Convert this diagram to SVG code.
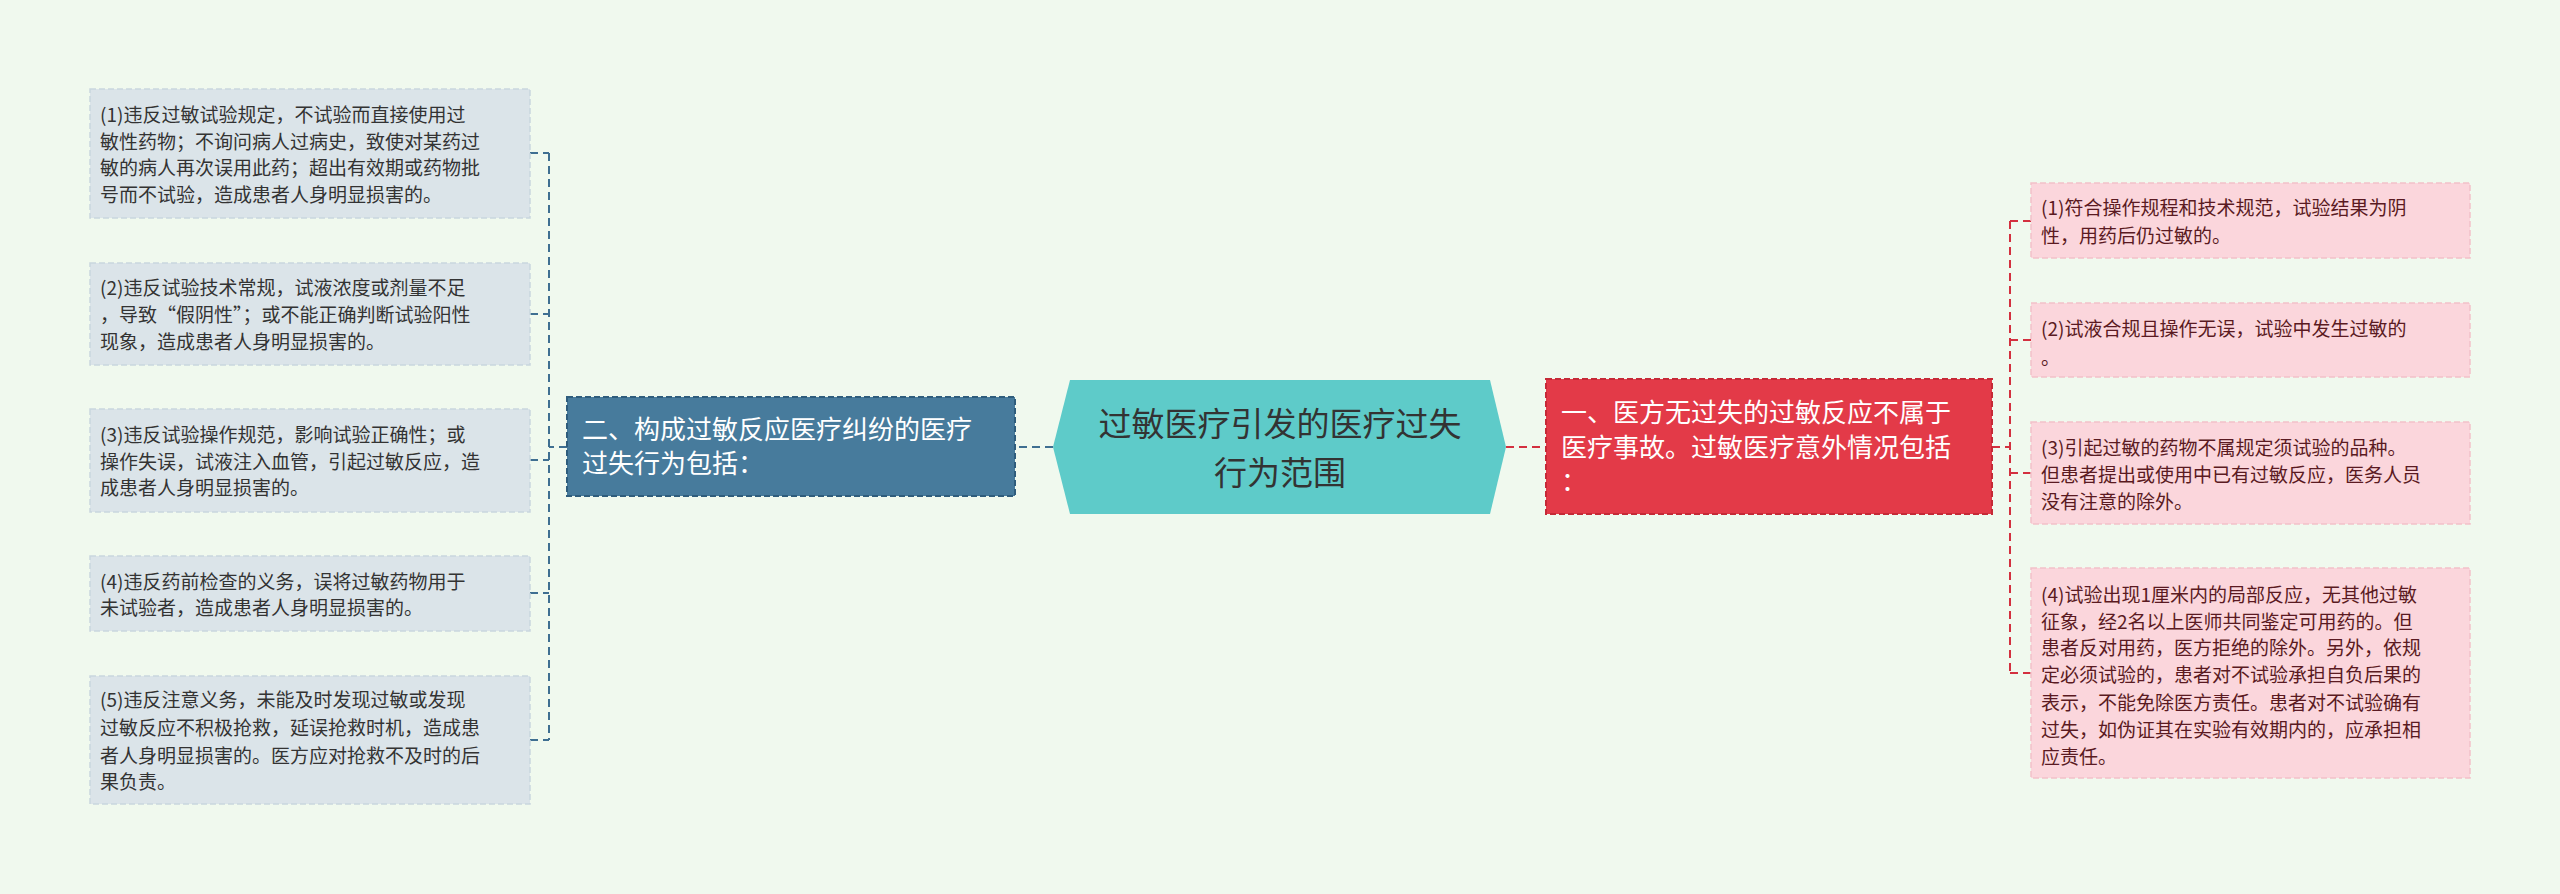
<svg xmlns="http://www.w3.org/2000/svg" width="2560" height="894" viewBox="0 0 2560 894">
<style>
text{font-family:"Noto Sans CJK SC","Liberation Sans",sans-serif}
.lb{fill:#dbe4e9;stroke:#c9d6de;stroke-width:1.5;stroke-dasharray:6 3}
.rb{fill:#fbd6dc;stroke:#f2c1c9;stroke-width:1.5;stroke-dasharray:6 3}
.lt{font-size:19px;fill:#333}
.rt{font-size:19px;fill:#5a1a22}
.bc{fill:none;stroke:#3f6f91;stroke-width:2;stroke-dasharray:8 5}
.rc{fill:none;stroke:#d3303f;stroke-width:2;stroke-dasharray:8 5}
</style>
<rect width="2560" height="894" fill="#f0f9ee"/>
<g id="connectors">
<path class="bc" d="M1053 447H1015M567 447H549M549 153V740M530 153H549M530 314H549M530 460H549M530 593H549M530 740H549"/>
<path class="rc" d="M1506 447H1546M1992 447H2010M2010 221V673M2010 221H2031M2010 340H2031M2010 473H2031M2010 673H2031"/>
</g>
<g id="center">
<polygon points="1070,380 1490,380 1506,447 1490,514 1070,514 1053,447" fill="#5ecbc9"/>
<text x="1280" y="436" font-size="33" fill="#333" text-anchor="middle">过敏医疗引发的医疗过失</text>
<text x="1280" y="485" font-size="33" fill="#333" text-anchor="middle">行为范围</text>
</g>
<g id="n2">
<rect x="567" y="397" width="448" height="99" fill="#477b9c" stroke="#2f5d7c" stroke-width="2" stroke-dasharray="6 3"/>
<text x="582" y="439" font-size="26" fill="#fff">二、构成过敏反应医疗纠纷的医疗</text>
<text x="582" y="473" font-size="26" fill="#fff">过失行为包括：</text>
</g>
<g id="n1">
<rect x="1546" y="379" width="446" height="135" fill="#e33a48" stroke="#c52a37" stroke-width="2" stroke-dasharray="6 3"/>
<text x="1561" y="422" font-size="26" fill="#fff">一、医方无过失的过敏反应不属于</text>
<text x="1561" y="457" font-size="26" fill="#fff">医疗事故。过敏医疗意外情况包括</text>
<text x="1561" y="491" font-size="26" fill="#fff">：</text>
</g>
<g id="l1"><rect class="lb" x="90" y="89" width="440" height="129"/>
<text class="lt" x="100" y="122">(1)违反过敏试验规定，不试验而直接使用过</text>
<text class="lt" x="100" y="149">敏性药物；不询问病人过病史，致使对某药过</text>
<text class="lt" x="100" y="175">敏的病人再次误用此药；超出有效期或药物批</text>
<text class="lt" x="100" y="202">号而不试验，造成患者人身明显损害的。</text></g>
<g id="l2"><rect class="lb" x="90" y="263" width="440" height="102"/>
<text class="lt" x="100" y="295">(2)违反试验技术常规，试液浓度或剂量不足</text>
<text class="lt" x="100" y="322">，导致“假阴性”；或不能正确判断试验阳性</text>
<text class="lt" x="100" y="349">现象，造成患者人身明显损害的。</text></g>
<g id="l3"><rect class="lb" x="90" y="409" width="440" height="103"/>
<text class="lt" x="100" y="442">(3)违反试验操作规范，影响试验正确性；或</text>
<text class="lt" x="100" y="469">操作失误，试液注入血管，引起过敏反应，造</text>
<text class="lt" x="100" y="495">成患者人身明显损害的。</text></g>
<g id="l4"><rect class="lb" x="90" y="556" width="440" height="75"/>
<text class="lt" x="100" y="589">(4)违反药前检查的义务，误将过敏药物用于</text>
<text class="lt" x="100" y="615">未试验者，造成患者人身明显损害的。</text></g>
<g id="l5"><rect class="lb" x="90" y="676" width="440" height="128"/>
<text class="lt" x="100" y="707">(5)违反注意义务，未能及时发现过敏或发现</text>
<text class="lt" x="100" y="735">过敏反应不积极抢救，延误抢救时机，造成患</text>
<text class="lt" x="100" y="763">者人身明显损害的。医方应对抢救不及时的后</text>
<text class="lt" x="100" y="789">果负责。</text></g>
<g id="r1"><rect class="rb" x="2031" y="183" width="439" height="75"/>
<text class="rt" x="2041" y="215">(1)符合操作规程和技术规范，试验结果为阴</text>
<text class="rt" x="2041" y="243">性，用药后仍过敏的。</text></g>
<g id="r2"><rect class="rb" x="2031" y="303" width="439" height="74"/>
<text class="rt" x="2041" y="336">(2)试液合规且操作无误，试验中发生过敏的</text>
<text class="rt" x="2041" y="365">。</text></g>
<g id="r3"><rect class="rb" x="2031" y="422" width="439" height="102"/>
<text class="rt" x="2041" y="455">(3)引起过敏的药物不属规定须试验的品种。</text>
<text class="rt" x="2041" y="482">但患者提出或使用中已有过敏反应，医务人员</text>
<text class="rt" x="2041" y="509">没有注意的除外。</text></g>
<g id="r4"><rect class="rb" x="2031" y="568" width="439" height="210"/>
<text class="rt" x="2041" y="602">(4)试验出现1厘米内的局部反应，无其他过敏</text>
<text class="rt" x="2041" y="629">征象，经2名以上医师共同鉴定可用药的。但</text>
<text class="rt" x="2041" y="655">患者反对用药，医方拒绝的除外。另外，依规</text>
<text class="rt" x="2041" y="682">定必须试验的，患者对不试验承担自负后果的</text>
<text class="rt" x="2041" y="710">表示，不能免除医方责任。患者对不试验确有</text>
<text class="rt" x="2041" y="737">过失，如伪证其在实验有效期内的，应承担相</text>
<text class="rt" x="2041" y="764">应责任。</text></g>
</svg>
